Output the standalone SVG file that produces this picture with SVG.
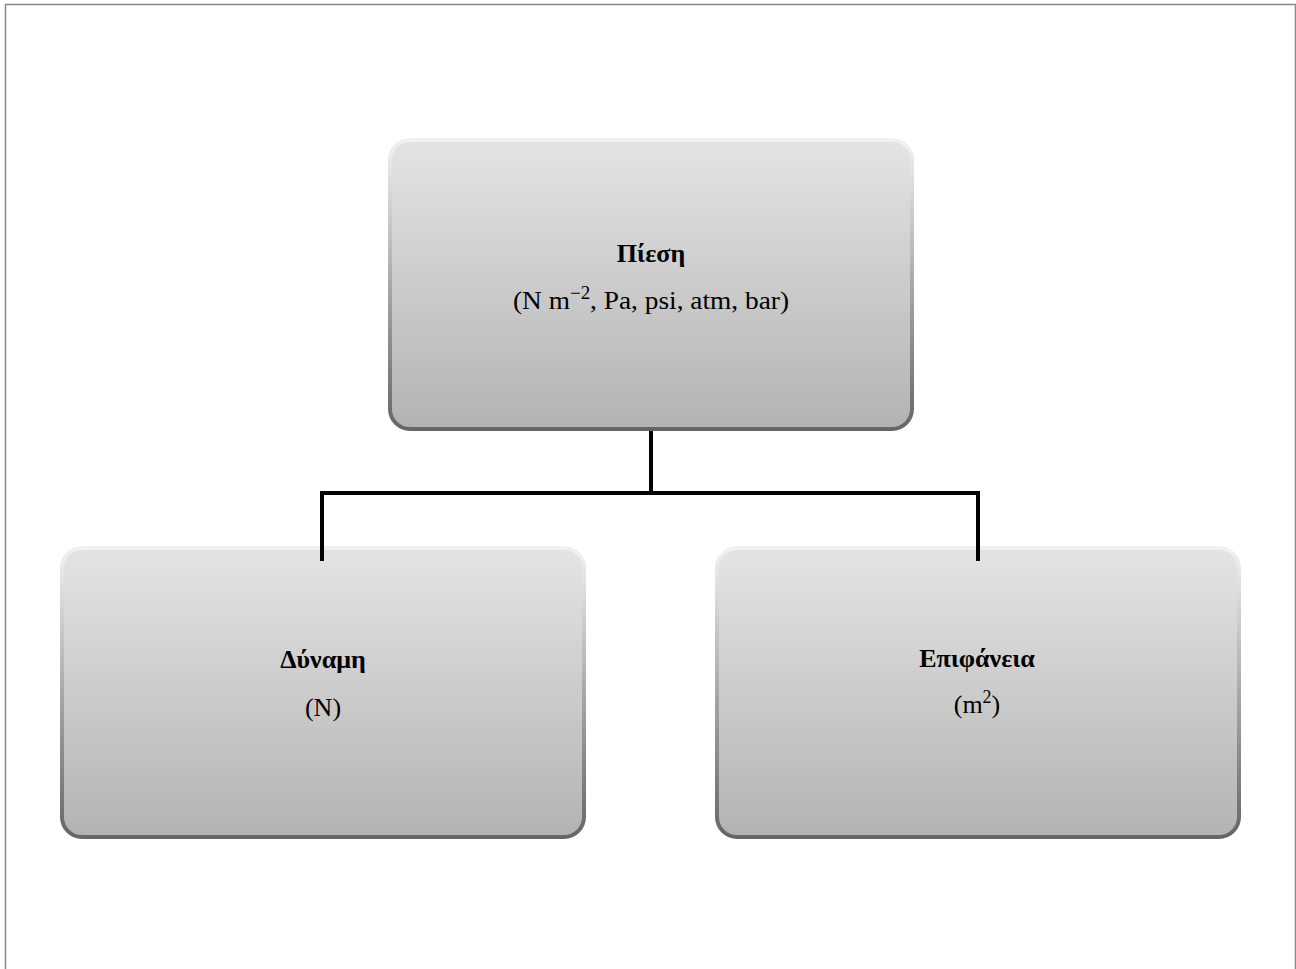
<svg xmlns="http://www.w3.org/2000/svg" width="1296" height="969" viewBox="0 0 1296 969">
<defs>
<linearGradient id="fill" x1="0" y1="0" x2="0" y2="1">
<stop offset="0" stop-color="#e4e4e4"/>
<stop offset="1" stop-color="#b3b3b3"/>
</linearGradient>
<linearGradient id="edge" x1="0" y1="0" x2="0" y2="1">
<stop offset="0" stop-color="#f2f2f2"/>
<stop offset="0.5" stop-color="#a8a8a8"/>
<stop offset="1" stop-color="#666666"/>
</linearGradient>
<style>
.box{fill:url(#fill);stroke:url(#edge);stroke-width:4}
.t{font-family:"Liberation Serif","DejaVu Serif",serif;font-size:26px;fill:#000;text-anchor:middle}
.b{font-weight:bold}
.conn{fill:none;stroke:#000;stroke-width:4}
</style>
</defs>
<rect width="1296" height="969" fill="#fff"/>
<path d="M5.5 969 V4.5 H1295.5 V969" fill="none" stroke="#888" stroke-width="1.5"/>
<g id="node-piesi">
<rect class="box" x="390" y="140" width="522" height="289" rx="20"/>
<text class="t b" x="651" y="262">Πίεση</text>
<text class="t" x="651" y="309" textLength="276" lengthAdjust="spacingAndGlyphs">(N m<tspan dy="-10" font-size="18">−2</tspan><tspan dy="10">, Pa, psi, atm, bar)</tspan></text>
</g>
<g id="node-dynami">
<rect class="box" x="62" y="548" width="522" height="289" rx="20"/>
<text class="t b" x="323" y="668">Δύναμη</text>
<text class="t" x="323" y="716">(N)</text>
</g>
<g id="node-epifaneia">
<rect class="box" x="717" y="548" width="522" height="289" rx="20"/>
<text class="t b" x="977" y="667">Επιφάνεια</text>
<text class="t" x="977" y="713">(m<tspan dy="-10" font-size="18">2</tspan><tspan dy="10">)</tspan></text>
</g>
<g id="connectors">
<path class="conn" d="M651 431 V493 M322 561 V493 H978 V561"/>
</g>
</svg>
